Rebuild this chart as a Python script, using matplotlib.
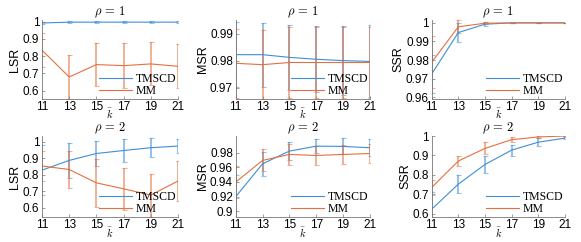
import matplotlib
matplotlib.use("Agg")
from matplotlib import pyplot as plt
from matplotlib.lines import Line2D

K = [11, 13, 15, 17, 19, 21]
LABELS = ["TMSCD", "MM"]
BLUE = "#3d8fd6"
ORANGE = "#e5703f"

# rho = 1
LSR1_T = [0.993, 0.998, 0.998, 0.998, 0.998, 0.998]
LSR1_T_ERR = [0.008, 0.007, 0.007, 0.007, 0.007, 0.007]
LSR1_M = [0.835, 0.679, 0.751, 0.745, 0.755, 0.741]
LSR1_M_ERR = [0.10, 0.13, 0.125, 0.13, 0.125, 0.127]

MSR1_T = [0.9822, 0.9822, 0.9812, 0.9805, 0.9800, 0.9797]
MSR1_T_ERR = [0.012, 0.0118, 0.0120, 0.0122, 0.0128, 0.0133]
MSR1_M = [0.9790, 0.9785, 0.9793, 0.9793, 0.9793, 0.9793]
MSR1_M_ERR = [0.0128, 0.0128, 0.0131, 0.0131, 0.0131, 0.0131]

SSR1_T = [0.9725, 0.9948, 0.9993, 1.0, 1.0, 1.0]
SSR1_T_ERR = [0.010, 0.005, 0.001, 0.0, 0.0, 0.0]
SSR1_M = [0.9788, 0.9979, 0.9998, 1.0, 1.0, 1.0]
SSR1_M_ERR = [0.014, 0.0035, 0.0005, 0.0, 0.0, 0.0]

# rho = 2
LSR2_T = [0.828, 0.887, 0.929, 0.947, 0.964, 0.974]
LSR2_T_ERR = [0.15, 0.106, 0.078, 0.072, 0.057, 0.044]
LSR2_M = [0.853, 0.832, 0.751, 0.715, 0.677, 0.762]
LSR2_M_ERR = [0.09, 0.11, 0.145, 0.128, 0.13, 0.12]

MSR2_T = [0.9197, 0.9649, 0.9823, 0.9891, 0.9887, 0.9869]
MSR2_T_ERR = [0.03, 0.0165, 0.0125, 0.010, 0.011, 0.0115]
MSR2_M = [0.9398, 0.9695, 0.9777, 0.9763, 0.9777, 0.9790]
MSR2_M_ERR = [0.022, 0.015, 0.014, 0.0125, 0.013, 0.0125]

SSR2_T = [0.623, 0.752, 0.853, 0.927, 0.968, 0.989]
SSR2_T_ERR = [0.09, 0.047, 0.043, 0.028, 0.020, 0.005]
SSR2_M = [0.735, 0.871, 0.936, 0.981, 0.995, 1.0]
SSR2_M_ERR = [0.04, 0.027, 0.031, 0.014, 0.005, 0.002]

plt.rcParams["mathtext.fontset"] = "cm"
plt.rcParams["font.family"] = ["Liberation Sans", "DejaVu Sans"]

panels = [
    # (title, ylabel, series T, err T, series M, err M, ylim, yticks, ticklabels)
    ("$\\rho\\,=\\,1$", "LSR", LSR1_T, LSR1_T_ERR, LSR1_M, LSR1_M_ERR,
     (0.551, 1.01), [0.6, 0.7, 0.8, 0.9, 1.0], ["0.6", "0.7", "0.8", "0.9", "1"]),
    ("$\\rho\\,=\\,1$", "MSR", MSR1_T, MSR1_T_ERR, MSR1_M, MSR1_M_ERR,
     (0.9658, 0.995), [0.97, 0.98, 0.99], ["0.97", "0.98", "0.99"]),
    ("$\\rho\\,=\\,1$", "SSR", SSR1_T, SSR1_T_ERR, SSR1_M, SSR1_M_ERR,
     (0.9591, 1.0015), [0.96, 0.97, 0.98, 0.99, 1.0], ["0.96", "0.97", "0.98", "0.99", "1"]),
    ("$\\rho\\,=\\,2$", "LSR", LSR2_T, LSR2_T_ERR, LSR2_M, LSR2_M_ERR,
     (0.5436, 1.035), [0.6, 0.7, 0.8, 0.9, 1.0], ["0.6", "0.7", "0.8", "0.9", "1"]),
    ("$\\rho\\,=\\,2$", "MSR", MSR2_T, MSR2_T_ERR, MSR2_M, MSR2_M_ERR,
     (0.8918, 1.003), [0.9, 0.92, 0.94, 0.96, 0.98], ["0.9", "0.92", "0.94", "0.96", "0.98"]),
    ("$\\rho\\,=\\,2$", "SSR", SSR2_T, SSR2_T_ERR, SSR2_M, SSR2_M_ERR,
     (0.5825, 1.0), [0.6, 0.7, 0.8, 0.9, 1.0], ["0.6", "0.7", "0.8", "0.9", "1"]),
]

lefts = [0.0723, 0.4057, 0.743]
widths = [0.234, 0.231, 0.229]
bottoms = [0.591, 0.103]
heights = [0.326, 0.335]

fig = plt.figure(figsize=(5.81, 2.42), dpi=100)

for i, (title, ylab, yt, et, ym, em, ylim, yticks, ytl) in enumerate(panels):
    row, col = divmod(i, 3)
    ax = fig.add_axes([lefts[col], bottoms[row], widths[col], heights[row]])
    for y, e, c in [(yt, et, BLUE), (ym, em, ORANGE)]:
        eb = ax.errorbar(K, y, yerr=e, color=c, lw=0.8, elinewidth=1.4,
                         capsize=1.8, capthick=0.8, ecolor=c)
        for part in eb[1] + eb[2]:
            part.set_alpha(0.55)
    ax.set_xlim(11, 21)
    ax.set_ylim(*ylim)
    ax.set_xticks(K)
    ax.set_yticks(yticks)
    ax.set_yticklabels(ytl)
    for s in ["top", "right"]:
        ax.spines[s].set_visible(False)
    for s in ["left", "bottom"]:
        ax.spines[s].set_color("#777777")
        ax.spines[s].set_linewidth(0.6)
    ax.tick_params(direction="in", length=2, width=0.5, color="#777777",
                   labelsize=8.5, pad=2)
    ax.tick_params(axis="x", pad=1.5)
    ax.set_title(title, fontsize=9, pad=0)
    ax.set_ylabel(ylab, fontsize=9, labelpad=1)
    ax.set_xlabel("$\\bar{k}$", fontsize=7.5, labelpad=-4.5)
    handles = [Line2D([], [], color=BLUE, lw=0.8), Line2D([], [], color=ORANGE, lw=0.8)]
    ax.legend(handles, LABELS, loc="lower right", frameon=False,
              prop={"family": "Liberation Serif", "size": 8.5},
              handlelength=2.8, labelspacing=0.0, borderaxespad=0.0,
              borderpad=0.15, handletextpad=0.3)

fig.savefig("out.png", dpi=100)
